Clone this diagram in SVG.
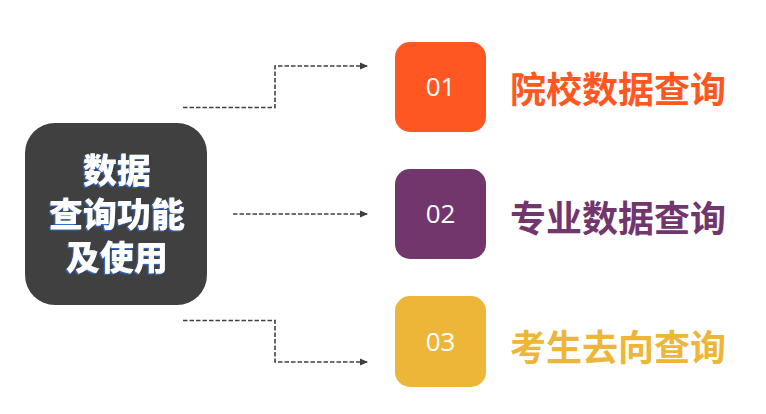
<svg xmlns="http://www.w3.org/2000/svg" width="766" height="414" viewBox="0 0 766 414">
<defs>
<marker id="arr" viewBox="0 0 8 8" refX="7" refY="4" markerWidth="8" markerHeight="8" markerUnits="userSpaceOnUse" orient="auto">
<path d="M0,0.5 L8,4 L0,7.5 Z" fill="#404040"/>
</marker>
<filter id="sh" x="-10%" y="-10%" width="120%" height="130%">
<feDropShadow dx="-1.2" dy="1.2" stdDeviation="0" flood-color="#2f6fd6" flood-opacity="1"/>
</filter>
<style>
.conn{fill:none;stroke:#404040;stroke-width:1.6;stroke-dasharray:4.5 2;marker-end:url(#arr)}
.main{font-family:"Noto Sans CJK SC","Noto Sans",sans-serif;font-weight:900;font-size:34px;text-anchor:middle;fill:#fff}
.num{font-family:"Open Sans","Liberation Sans",sans-serif;font-weight:400;font-size:26px;fill:#fff;text-anchor:middle}
.lab{font-family:"Noto Sans CJK SC","Noto Sans",sans-serif;font-weight:700;font-size:36px}
</style>
</defs>
<rect width="766" height="414" fill="#fff"/>
<g id="connectors">
<path class="conn" d="M183,107.5 H275 V66 H367"/>
<path class="conn" d="M233,214 H367"/>
<path class="conn" d="M183,320.5 H275 V362 H367"/>
</g>
<g id="main">
<rect x="25" y="123" width="182" height="182" rx="30" fill="#404040"/>
<g class="main" filter="url(#sh)">
<text x="117" y="183">数据</text>
<text x="117" y="227">查询功能</text>
<text x="117" y="270">及使用</text>
</g>
</g>
<g id="n1">
<rect x="395" y="42" width="91" height="90" rx="15" fill="#FE5722"/>
<text class="num" x="440.5" y="96">01</text>
<text class="lab" x="510" y="103" fill="#FE5722">院校数据查询</text>
</g>
<g id="n2">
<rect x="395" y="169" width="91" height="90" rx="15" fill="#73366C"/>
<text class="num" x="440.5" y="223">02</text>
<text class="lab" x="510" y="232" fill="#73366C">专业数据查询</text>
</g>
<g id="n3">
<rect x="395" y="296" width="91" height="91" rx="15" fill="#EDB638"/>
<text class="num" x="440.5" y="351">03</text>
<text class="lab" x="510" y="361" fill="#EDB638">考生去向查询</text>
</g>
</svg>
